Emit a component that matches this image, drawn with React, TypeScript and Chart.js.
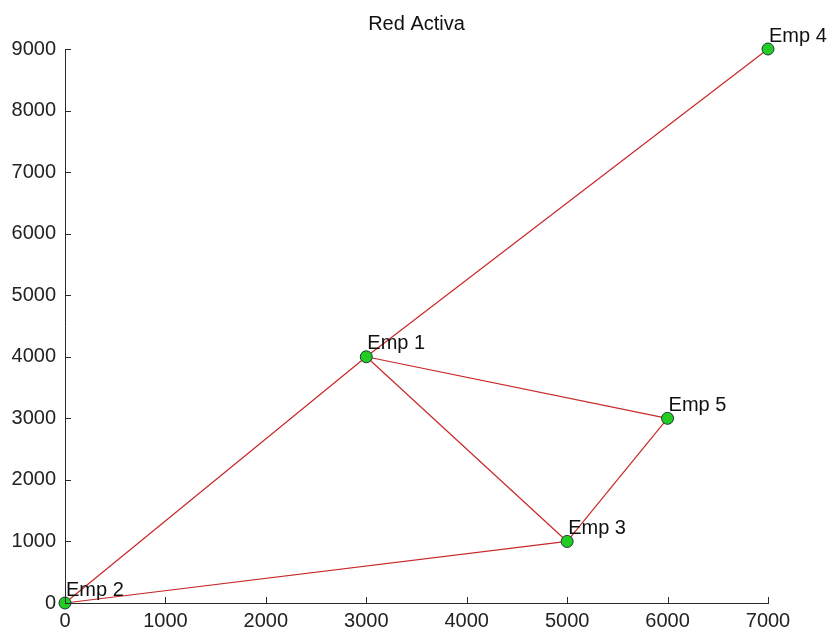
import React, { useEffect, useRef } from "react";
import { Chart, registerables } from "chart.js";

Chart.register(...registerables);

const titleText = "Red Activa";
const nodeNames = ["Emp 1", "Emp 2", "Emp 3", "Emp 4", "Emp 5"];
const nodeX = [3000, 0, 5000, 7000, 6000];
const nodeY = [4000, 0, 1000, 9000, 3000];
const edgeFrom = ["Emp 2", "Emp 1", "Emp 1", "Emp 1", "Emp 3", "Emp 2"];
const edgeTo = ["Emp 1", "Emp 4", "Emp 5", "Emp 3", "Emp 5", "Emp 3"];
const xTicks = [0, 1000, 2000, 3000, 4000, 5000, 6000, 7000];
const yTicks = [0, 1000, 2000, 3000, 4000, 5000, 6000, 7000, 8000, 9000];

const FONT = "'Liberation Sans', Arial, sans-serif";
const AXIS_COLOR = "#2a2a2a";

export default function App() {
  const ref = useRef<HTMLCanvasElement | null>(null);

  useEffect(() => {
    if (!ref.current) return;
    const idx = (n: string) => nodeNames.indexOf(n);

    const edgeSets = edgeFrom.map((f, i) => {
      const a = idx(f);
      const b = idx(edgeTo[i]);
      return {
        type: "scatter" as const,
        label: `${f}-${edgeTo[i]}`,
        data: [
          { x: nodeX[a], y: nodeY[a] },
          { x: nodeX[b], y: nodeY[b] },
        ],
        showLine: true,
        borderColor: "rgb(200,40,40)",
        borderWidth: 1.2,
        pointRadius: 0,
        pointHoverRadius: 0,
        clip: false as any,
      };
    });

    const pointSet = {
      type: "scatter" as const,
      label: "nodes",
      data: nodeX.map((x, i) => ({ x, y: nodeY[i] })),
      showLine: false,
      pointRadius: 6,
      pointBackgroundColor: "#22cc22",
      pointBorderColor: "#1a3a3a",
      pointBorderWidth: 1,
      clip: false as any,
    };

    const overlay = {
      id: "overlay",
      afterDraw(chart: any) {
        const ctx = chart.ctx;
        const xs = chart.scales.x;
        const ys = chart.scales.y;
        const area = chart.chartArea;
        ctx.save();
        // inward ticks
        ctx.strokeStyle = AXIS_COLOR;
        ctx.lineWidth = 1;
        ctx.beginPath();
        xTicks.forEach((v) => {
          const px = Math.round(xs.getPixelForValue(v)) + 0.5;
          ctx.moveTo(px, area.bottom);
          ctx.lineTo(px, area.bottom - 6);
        });
        yTicks.forEach((v) => {
          const py = Math.round(ys.getPixelForValue(v)) + 0.5;
          ctx.moveTo(area.left, py);
          ctx.lineTo(area.left + 6, py);
        });
        ctx.stroke();
        // node labels
        ctx.fillStyle = "#111";
        ctx.font = `20px ${FONT}`;
        ctx.textAlign = "left";
        ctx.textBaseline = "middle";
        nodeNames.forEach((n, i) => {
          const px = xs.getPixelForValue(nodeX[i]);
          const py = ys.getPixelForValue(nodeY[i]);
          ctx.fillText(n, px + 1, py - 13);
        });
        // title
        ctx.textAlign = "center";
        ctx.fillText(titleText, (area.left + area.right) / 2, 24);
        ctx.restore();
      },
    };

    const chart = new Chart(ref.current, {
      type: "scatter",
      data: { datasets: [pointSet as any, ...edgeSets] },
      options: {
        animation: false,
        responsive: false,
        events: [],
        layout: { padding: { left: 0, top: 49, right: 65, bottom: 0 } },
        plugins: {
          legend: { display: false },
          title: { display: false },
          tooltip: { enabled: false },
        },
        scales: {
          x: {
            type: "linear",
            min: 0,
            max: 7000,
            afterFit: (s: any) => {
              s.height = 30;
            },
            afterBuildTicks: (s: any) => {
              s.ticks = xTicks.map((v) => ({ value: v }));
            },
            grid: { display: false, drawTicks: false },
            border: { display: true, color: AXIS_COLOR, width: 1 },
            ticks: {
              autoSkip: false,
              maxRotation: 0,
              padding: 6,
              color: "#222",
              font: { family: FONT, size: 20 },
              callback: (v: any) => String(v),
            },
          },
          y: {
            type: "linear",
            min: 0,
            max: 9000,
            afterFit: (s: any) => {
              s.width = 65;
            },
            afterBuildTicks: (s: any) => {
              s.ticks = yTicks.map((v) => ({ value: v }));
            },
            grid: { display: false, drawTicks: false },
            border: { display: true, color: AXIS_COLOR, width: 1 },
            ticks: {
              autoSkip: false,
              padding: 9,
              color: "#222",
              font: { family: FONT, size: 20 },
              callback: (v: any) => String(v),
            },
          },
        },
      },
      plugins: [overlay],
    });

    return () => chart.destroy();
  }, []);

  return (
    <div style={{ position: "absolute", left: 0, top: 0, width: 833, height: 633, background: "#fff" }}>
      <canvas ref={ref} width={833} height={633} style={{ display: "block", width: 833, height: 633 }} />
    </div>
  );
}
